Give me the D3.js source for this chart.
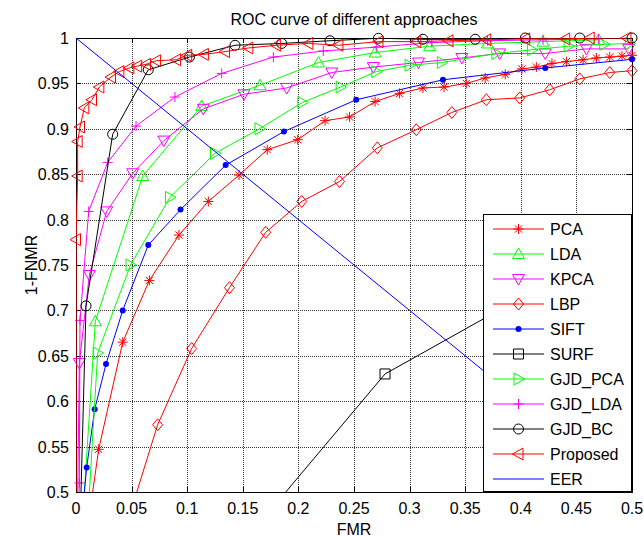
<!DOCTYPE html>
<html>
<head>
<meta charset="utf-8">
<script src="https://cdn.jsdelivr.net/npm/d3@7"></script>
<style>
  body { margin: 0; background: #fff; }
  svg { font-family: "Liberation Sans", Arial, sans-serif; }
</style>
</head>
<body>
<svg id="roc" width="644" height="537"></svg>
<script>
// ------- data (FMR, 1-FNMR) -------
var xTicks = [0, 0.05, 0.1, 0.15, 0.2, 0.25, 0.3, 0.35, 0.4, 0.45, 0.5];
var yTicks = [0.5, 0.55, 0.6, 0.65, 0.7, 0.75, 0.8, 0.85, 0.9, 0.95, 1];

var pca = [[0.010,0.457],[0.0204,0.547],[0.042,0.665],[0.066,0.733],[0.0926,0.783],[0.119,0.820],
  [0.1466,0.849],[0.172,0.877],[0.1994,0.888],[0.224,0.909],[0.246,0.913],[0.269,0.930],[0.291,0.939],
  [0.312,0.945],[0.331,0.946],[0.351,0.950],[0.368,0.956],[0.386,0.960],[0.401,0.966],[0.414,0.968],
  [0.428,0.972],[0.441,0.974],[0.456,0.976],[0.468,0.978],[0.480,0.979],[0.491,0.980],[0.500,0.981]];
var lda = [[0.0049,0.45],[0.0174,0.688],[0.060,0.848],[0.113,0.925],[0.1655,0.948],[0.218,0.973],
  [0.269,0.984],[0.318,0.991],[0.37,0.994],[0.42,0.996],[0.47,0.998]];
var kpca = [[0.001,0.45],[0.003,0.642],[0.012,0.739],[0.0276,0.809],[0.051,0.851],[0.079,0.887],
  [0.1145,0.922],[0.151,0.938],[0.1895,0.945],[0.230,0.962],[0.2674,0.968],[0.308,0.973],
  [0.347,0.978],[0.381,0.983],[0.422,0.983],[0.459,0.988],[0.497,0.988]];
var lbp = [[0.042,0.45],[0.0734,0.574],[0.104,0.658],[0.138,0.725],[0.1706,0.786],[0.203,0.820],
  [0.237,0.842],[0.271,0.879],[0.306,0.899],[0.338,0.918],[0.369,0.932],[0.399,0.934],
  [0.426,0.943],[0.453,0.955],[0.480,0.962],[0.500,0.964]];
var sift = [[0.0036,0.45],[0.0096,0.527],[0.0168,0.591],[0.027,0.641],[0.042,0.700],[0.065,0.772],
  [0.094,0.811],[0.1346,0.860],[0.187,0.897],[0.252,0.932],[0.330,0.954],[0.422,0.967],[0.500,0.9765]];
var surf = [[0.12,0.40],[0.2779,0.630],[0.45,0.748]];
var gjdPca = [[0.0096,0.45],[0.0195,0.653],[0.049,0.750],[0.0845,0.8245],[0.125,0.873],[0.165,0.900],
  [0.2035,0.929],[0.238,0.946],[0.270,0.963],[0.300,0.970],[0.329,0.973],[0.378,0.983],
  [0.41,0.987],[0.443,0.991],[0.475,0.993],[0.498,0.994]];
var gjdLda = [[0.002,0.45],[0.003,0.510],[0.0036,0.689],[0.0114,0.809],[0.0285,0.863],[0.054,0.903],
  [0.089,0.935],[0.131,0.961],[0.1775,0.979],[0.2224,0.9857],[0.27,0.990],[0.32,0.995],
  [0.37,0.997],[0.42,0.998],[0.47,0.999]];
var gjdBc = [[0.0034,0.45],[0.009,0.705],[0.033,0.894],[0.065,0.965],[0.102,0.979],[0.143,0.992],
  [0.185,0.994],[0.2284,0.997],[0.272,0.9997],[0.312,0.9986],[0.359,0.9986],[0.404,1],[0.453,1],[0.5,1]];
var proposed = [[0,0.45],[0,0.778],[0.0015,0.848],[0.0015,0.886],[0.0036,0.902],[0.0075,0.923],
  [0.0144,0.932],[0.021,0.946],[0.0315,0.957],[0.039,0.963],[0.048,0.967],[0.055,0.969],
  [0.063,0.971],[0.072,0.975],[0.09,0.976],[0.1,0.981],[0.115,0.982],[0.134,0.985],[0.155,0.989],
  [0.18,0.992],[0.209,0.994],[0.236,0.992],[0.272,0.996],[0.306,0.996],[0.335,0.997],
  [0.369,0.998],[0.404,0.999],[0.44,0.999],[0.462,1],[0.495,1]];
var eer = [[0,1],[0.5,0.5]];

var series = [
  { name: "PCA", data: pca, color: "#ff0000", marker: "star" },
  { name: "LDA", data: lda, color: "#00ff00", marker: "triUp" },
  { name: "KPCA", data: kpca, color: "#ff00ff", marker: "triDown" },
  { name: "LBP", data: lbp, color: "#ff0000", marker: "diamond" },
  { name: "SIFT", data: sift, color: "#0000ff", marker: "dot" },
  { name: "SURF", data: surf, color: "#000000", marker: "square" },
  { name: "GJD_PCA", data: gjdPca, color: "#00ff00", marker: "triRight" },
  { name: "GJD_LDA", data: gjdLda, color: "#ff00ff", marker: "plus" },
  { name: "GJD_BC", data: gjdBc, color: "#000000", marker: "circle" },
  { name: "Proposed", data: proposed, color: "#ff0000", marker: "triLeft" },
  { name: "EER", data: eer, color: "#0000ff", marker: "none" }
];

// ------- layout -------
var plotL = 76, plotR = 632, plotT = 38, plotB = 492;
var svg = d3.select("#roc");

var x = d3.scaleLinear().domain([0, 0.5]).range([plotL, plotR]);
var y = d3.scaleLinear().domain([0.5, 1]).range([plotB, plotT]);

svg.append("defs").append("clipPath").attr("id", "plotClip")
  .append("rect").attr("x", plotL).attr("y", plotT)
  .attr("width", plotR - plotL).attr("height", plotB - plotT);

// grid (dotted, MATLAB style)
var grid = svg.append("g");
grid.selectAll(".gx").data(xTicks.slice(1, -1)).enter().append("line")
  .attr("x1", function (d) { return Math.round(x(d)) + 0.5; }).attr("x2", function (d) { return Math.round(x(d)) + 0.5; })
  .attr("y1", plotT).attr("y2", plotB);
grid.selectAll(".gy").data(yTicks.slice(1, -1)).enter().append("line")
  .attr("y1", function (d) { return Math.round(y(d)) + 0.5; }).attr("y2", function (d) { return Math.round(y(d)) + 0.5; })
  .attr("x1", plotL).attr("x2", plotR);
grid.selectAll("line").attr("stroke", "#333").attr("stroke-width", 1).attr("stroke-dasharray", "1,1");

// axes: box with inward ticks on all four sides
var tickLen = 5;
var axes = svg.append("g").attr("stroke", "#000").attr("stroke-width", 1);
axes.append("rect").attr("x", plotL + 0.5).attr("y", plotT + 0.5)
  .attr("width", plotR - plotL).attr("height", plotB - plotT).attr("fill", "none");
xTicks.forEach(function (t) {
  var px = Math.round(x(t)) + 0.5;
  axes.append("line").attr("x1", px).attr("x2", px).attr("y1", plotB).attr("y2", plotB - tickLen);
  axes.append("line").attr("x1", px).attr("x2", px).attr("y1", plotT).attr("y2", plotT + tickLen);
});
yTicks.forEach(function (t) {
  var py = Math.round(y(t)) + 0.5;
  axes.append("line").attr("y1", py).attr("y2", py).attr("x1", plotL).attr("x2", plotL + tickLen);
  axes.append("line").attr("y1", py).attr("y2", py).attr("x1", plotR).attr("x2", plotR - tickLen);
});

var fmt = function (v) { return String(+v.toFixed(2)); };
svg.append("g").selectAll("text").data(xTicks).enter().append("text")
  .attr("x", function (d) { return x(d); }).attr("y", 514)
  .attr("text-anchor", "middle").attr("font-size", 16).text(fmt);
svg.append("g").selectAll("text").data(yTicks).enter().append("text")
  .attr("x", 69).attr("y", function (d) { return y(d) + 6; })
  .attr("text-anchor", "end").attr("font-size", 16).text(fmt);

svg.append("text").attr("x", 354).attr("y", 25).attr("text-anchor", "middle")
  .attr("font-size", 16).text("ROC curve of different approaches");
svg.append("text").attr("x", 354).attr("y", 535).attr("text-anchor", "middle")
  .attr("font-size", 16).text("FMR");
svg.append("text").attr("transform", "translate(37," + ((plotT + plotB) / 2) + ")rotate(-90)")
  .attr("text-anchor", "middle").attr("font-size", 16).text("1-FNMR");

// ------- markers -------
function markerPath(type) {
  switch (type) {
    case "star":
      return "M-5,0L5,0M0,-5L0,5M-3.6,-3.6L3.6,3.6M-3.6,3.6L3.6,-3.6";
    case "plus":
      return "M-5,0L5,0M0,-5L0,5";
    case "triUp":
      return "M0,-6L6,4.5L-6,4.5Z";
    case "triDown":
      return "M0,6L6,-4.5L-6,-4.5Z";
    case "triRight":
      return "M6,0L-4.5,6L-4.5,-6Z";
    case "triLeft":
      return "M-6,0L4.5,6L4.5,-6Z";
    case "diamond":
      return "M0,-6L5,0L0,6L-5,0Z";
    case "square":
      return "M-5,-5L5,-5L5,5L-5,5Z";
  }
  return null;
}

function drawMarker(g, type, color, px, py) {
  if (type === "none") return;
  if (type === "dot") {
    g.append("circle").attr("cx", px).attr("cy", py).attr("r", 3).attr("fill", color);
  } else if (type === "circle") {
    g.append("circle").attr("cx", px).attr("cy", py).attr("r", 5)
      .attr("fill", "none").attr("stroke", color).attr("stroke-width", 1);
  } else {
    g.append("path").attr("d", markerPath(type))
      .attr("transform", "translate(" + px + "," + py + ")")
      .attr("fill", "none").attr("stroke", color).attr("stroke-width", 1);
  }
}

var line = d3.line()
  .x(function (d) { return x(d[0]); })
  .y(function (d) { return y(d[1]); });

var plot = svg.append("g");
series.forEach(function (s) {
  plot.append("path").datum(s.data)
    .attr("d", line)
    .attr("clip-path", "url(#plotClip)")
    .attr("fill", "none").attr("stroke", s.color).attr("stroke-width", 1);
  var mg = plot.append("g");
  s.data.forEach(function (d) {
    if (d[1] < 0.5 || d[1] > 1 || d[0] < 0 || d[0] > 0.5) return;
    if (s.marker === "none") return;
    drawMarker(mg, s.marker, s.color, x(d[0]), y(d[1]));
  });
});

// ------- legend -------
var lg = svg.append("g");
lg.append("rect").attr("x", 483.5).attr("y", 214.5).attr("width", 148).attr("height", 277)
  .attr("fill", "#fff").attr("stroke", "#000").attr("stroke-width", 1);
series.forEach(function (s, i) {
  var ly = 229 + i * 25;
  lg.append("line").attr("x1", 493).attr("x2", 544).attr("y1", ly).attr("y2", ly)
    .attr("stroke", s.color).attr("stroke-width", 1);
  drawMarker(lg, s.marker, s.color, 518.5, ly);
  lg.append("text").attr("x", 550).attr("y", ly + 6).attr("font-size", 16).text(s.name);
});
</script>
</body>
</html>
